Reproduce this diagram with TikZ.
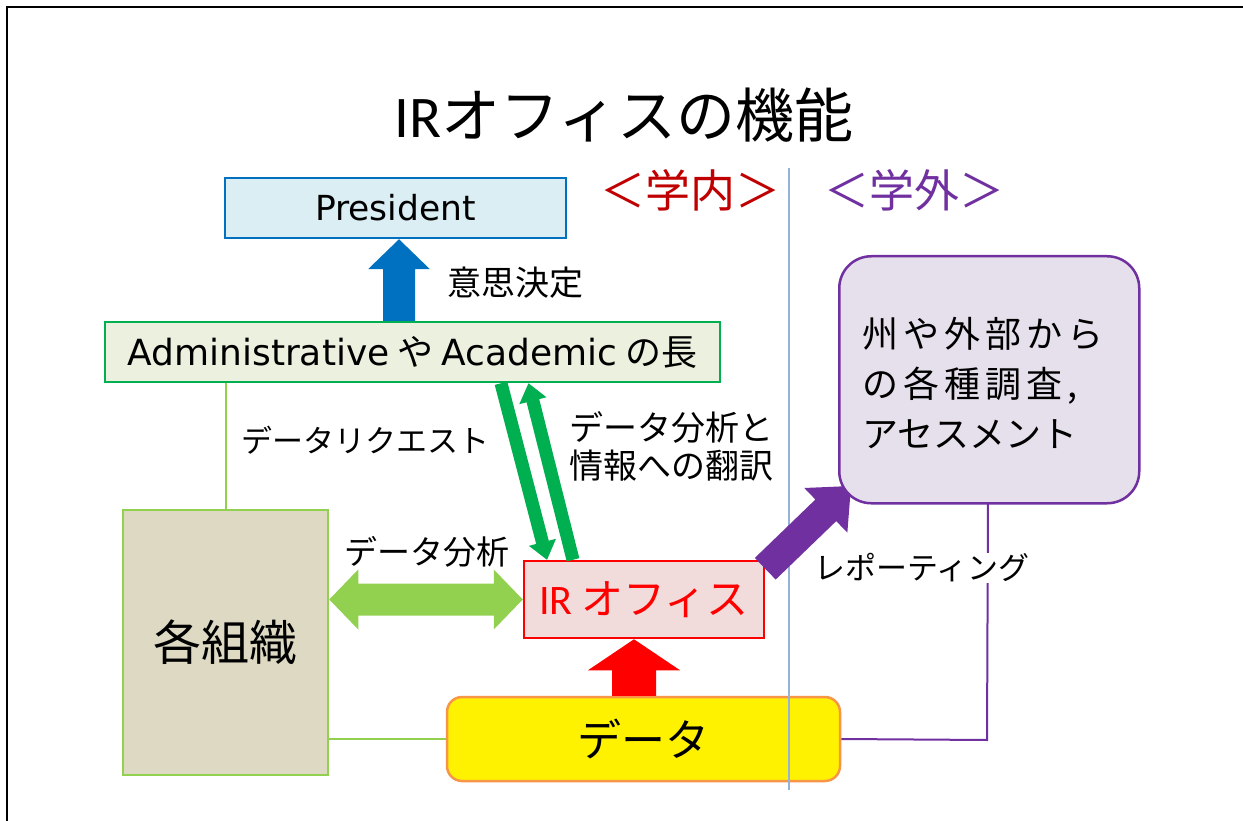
\documentclass[tikz,border=0pt]{standalone}
\usepackage{fontspec}
\setmainfont{Noto Sans CJK JP}
\newfontfamily\latfont{DejaVu Sans}
\newfontfamily\calfont{Carlito}
\usetikzlibrary{calc}
\definecolor{presfill}{HTML}{DAEEF3}
\definecolor{presdraw}{HTML}{0070C0}
\definecolor{admfill}{HTML}{EBF1DE}
\definecolor{admdraw}{HTML}{00B050}
\definecolor{orgfill}{HTML}{DDD9C3}
\definecolor{lgreen}{HTML}{92D050}
\definecolor{irfill}{HTML}{F2DCDB}
\definecolor{datadraw}{HTML}{F79646}
\definecolor{pfill}{HTML}{E6E0EC}
\definecolor{pdraw}{HTML}{7030A0}
\definecolor{vline}{HTML}{95B3D7}
\definecolor{dred}{HTML}{C00000}
\newcommand\ks{\kern5pt}
\newcommand\blockarrow[6]{%
  \path (#2) coordinate (ba-A) (#3) coordinate (ba-B);
  \path ($(ba-B)!#6!(ba-A)$) coordinate (ba-H);
  \fill[#1] ($(ba-A)!#4!90:(ba-B)$) -- ($(ba-H)!#4!90:(ba-B)$) -- ($(ba-H)!#5!90:(ba-B)$) -- (ba-B)
    -- ($(ba-H)!#5!-90:(ba-B)$) -- ($(ba-H)!#4!-90:(ba-B)$) -- ($(ba-A)!#4!-90:(ba-B)$) -- cycle;
}
\newcommand\dblockarrow[6]{%
  \path (#2) coordinate (ba-A) (#3) coordinate (ba-B);
  \path ($(ba-B)!#6!(ba-A)$) coordinate (ba-H);
  \path ($(ba-A)!#6!(ba-B)$) coordinate (ba-G);
  \fill[#1] (ba-A) -- ($(ba-G)!#5!-90:(ba-B)$) -- ($(ba-G)!#4!-90:(ba-B)$) -- ($(ba-H)!#4!90:(ba-A)$)
    -- ($(ba-H)!#5!90:(ba-A)$) -- (ba-B) -- ($(ba-H)!#5!-90:(ba-A)$) -- ($(ba-H)!#4!-90:(ba-A)$)
    -- ($(ba-G)!#4!90:(ba-B)$) -- ($(ba-G)!#5!90:(ba-B)$) -- cycle;
}
\begin{document}
\begin{tikzpicture}[x=1pt,y=-1pt,
  box/.style={rectangle, line width=2.5pt, inner sep=0pt},
  lab/.style={font=\fontsize{31}{38}\selectfont, inner sep=1pt},
  conn/.style={line width=2pt}]
\useasboundingbox (0,0) rectangle (1243,821);
\fill[white] (0,0) rectangle (1243,821);
% frame
\coordinate (fbl) at (7,821);
\coordinate (ftl) at (7,7);
\coordinate (ftr) at (1243,7);
\draw[line width=2.5pt] (fbl) -- (ftl) -- (ftr);
% title
\node (title) at (624,115) {\fontsize{59}{66}\selectfont{\calfont IR}オフィスの機能};
\node[text=dred] (inner) at (690,190) {\fontsize{45}{50}\selectfont ＜学内＞};
\node[text=pdraw] (outer) at (914,190) {\fontsize{45}{50}\selectfont ＜学外＞};
% boxes
\node[box, fill=presfill, draw=presdraw, minimum width=341pt, minimum height=60pt] (pres) at (395.5,208)
  {\fontsize{34.5}{40}\selectfont\latfont President};
\node[box, fill=admfill, draw=admdraw, minimum width=615pt, minimum height=60pt] (adm) at (412.5,352)
  {\fontsize{36}{40}\selectfont{\latfont Administrative} や {\latfont Academic} の長};
\node[box, fill=orgfill, draw=lgreen, minimum width=205pt, minimum height=265pt] (org) at (225.5,642.5)
  {\fontsize{48}{54}\selectfont 各組織};
\node[box, fill=irfill, draw=red, minimum width=240pt, minimum height=77pt, text=red] (ir) at (644,599.5)
  {\fontsize{42}{46}\selectfont{\calfont IR} オフィス};
\node[box, fill=yellow, draw=datadraw, rounded corners=15pt, minimum width=393pt, minimum height=84pt] (data) at (643.5,739)
  {\fontsize{44}{50}\selectfont データ};
% connector lines
\draw[conn, lgreen] (org.north) -- (org.north |- adm.south);
\draw[conn, lgreen] (data.west) -- (data.west -| org.east);
\coordinate (pcorner) at (987,740);
\coordinate (pbot) at (988,502);
\draw[conn, pdraw] (data.east) -- (pcorner) -- (pbot);
% vertical divider
\coordinate (vtop) at (789,168);
\coordinate (vbot) at (789,790);
\draw[vline, line width=1.2pt] (vtop) -- (vbot);
% purple arrow (under the box)
\coordinate (ptip) at (851,486);
\blockarrow{pdraw}{[yshift=-9pt]ir.north east}{ptip}{15pt}{31pt}{35pt}
\node[box, fill=pfill, draw=pdraw, rounded corners=32pt, minimum width=300pt, minimum height=247pt,
  anchor=north west] (pbox) at (838,255) {};
\node[anchor=west, align=left, inner sep=0pt, font=\fontsize{36}{50}\selectfont] (ptext) at (862,383)
  {州\ks や\ks 外\ks 部\ks か\ks ら\\の\ks 各\ks 種\ks 調\ks 査\ks ,\\アセスメント};
% block arrows
\blockarrow{presdraw}{[xshift=-13.5pt]adm.north}{[xshift=3.5pt]pres.south}{16pt}{31pt}{30pt}
\blockarrow{admdraw}{[xshift=88.5pt]adm.south}{[xshift=-97pt]ir.north}{6.5pt}{14pt}{18pt}
\blockarrow{admdraw}{[xshift=-71pt]ir.north}{[xshift=116pt]adm.south}{6.5pt}{14pt}{18pt}
\dblockarrow{lgreen}{org.east |- ir.west}{ir.west}{16pt}{30pt}{29pt}
\blockarrow{red}{[xshift=-9.5pt]data.north}{[xshift=-10pt]ir.south}{22pt}{46pt}{31pt}
% labels
\node[lab, font=\fontsize{34}{38}\selectfont] (l1) at (515,283) {意思決定};
\node[lab] (l2) at (365,440) {データリクエスト};
\node[lab, anchor=west, align=left, font=\fontsize{34}{38}\selectfont] (l3) at (568,446) {データ分析と\\情報への翻訳};
\node[lab, font=\fontsize{33}{38}\selectfont] (l4) at (427,552) {データ分析};
\node[lab, fill=white] (l5) at (922,568) {レポーティング};
\end{tikzpicture}
\end{document}
